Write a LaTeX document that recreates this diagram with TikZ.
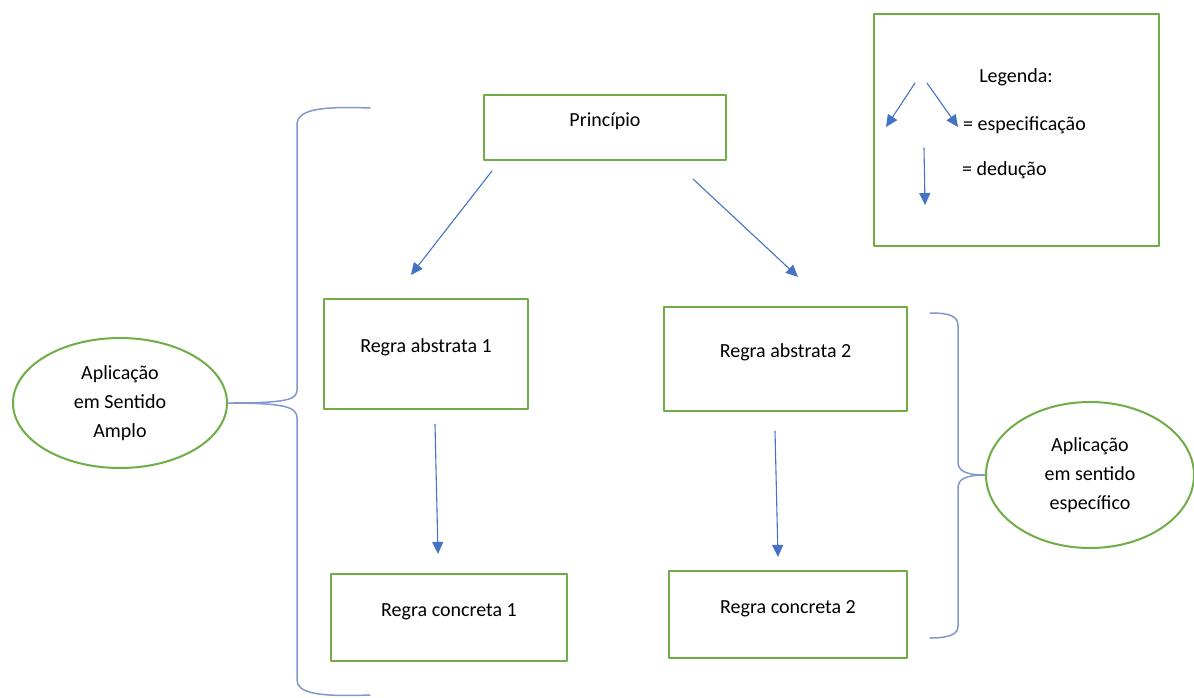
\documentclass[tikz,border=0pt]{standalone}
\usepackage{fontspec}
\setmainfont{Carlito}
\usetikzlibrary{arrows.meta,shapes.geometric,calc}

\begin{document}
\begin{tikzpicture}[x=1pt, y=-1pt, line join=round, line cap=round,
  font=\fontsize{20}{24}\selectfont,
  box/.style={draw=boxgreen, line width=2.2pt, text height=14pt, text depth=17pt},
  oval/.style={ellipse, draw=boxgreen, line width=2pt, align=center,
    font=\fontsize{20}{29}\selectfont},
  spec/.style={draw=arrowblue, line width=1.1pt, -{Triangle[length=12pt,width=11pt]}},
  brace/.style={draw=bracegray, line width=1.5pt}]

% ---------- helpers ----------
\definecolor{boxgreen}{RGB}{112,173,71}
\definecolor{arrowblue}{RGB}{68,114,196}
\definecolor{bracegray}{RGB}{128,152,204}

\useasboundingbox (0,0) rectangle (1194,697);

% ---------- boxes ----------
\node[box, minimum width=242, minimum height=65] (princ) at (605,127.5) {Princípio};
\node[box, minimum width=204, minimum height=110] (abs1) at (426,354) {Regra abstrata 1};
\node[box, minimum width=243, minimum height=104] (abs2) at (785.5,359) {Regra abstrata 2};
\node[box, minimum width=236, minimum height=87] (conc1) at (449,617.5) {Regra concreta 1};
\node[box, minimum width=238, minimum height=87] (conc2) at (788,614.5) {Regra concreta 2};

% ---------- ovals ----------
\node[oval, minimum width=214, minimum height=130] (amplo) at (120,403)
  {Aplicação\\em Sentido\\Amplo};
\node[oval, minimum width=208, minimum height=146] (especif) at (1090,475)
  {Aplicação\\em sentido\\específico};

% ---------- arrows ----------
\draw[spec] ($(princ.south west)+(9,10)$) -- ($(abs1.north)+(-15,-23)$);
\draw[spec] ($(princ.south east)+(-34,18)$) -- ($(abs2.north)+(12.5,-29)$);
\draw[spec] ($(abs1.south)+(9,14)$) -- ($(conc1.north)+(-11,-19)$);
\draw[spec] ($(abs2.south)+(-10.5,19)$) -- ($(conc2.north)+(-10,-13)$);

% ---------- braces ----------
\draw[brace] (370,108) .. controls (318,106) and (297,110) .. (297,125)
  -- (297,390) .. controls (297,400) and (285,403) .. (amplo.east)
  .. controls (285,403) and (297,407) .. (297,418)
  -- (297,680) .. controls (297,693) and (318,697) .. (370,695);
\draw[brace] (930,313) .. controls (950,313) and (958,316) .. (958,326)
  -- (958,462) .. controls (958,471) and (966,475) .. (especif.west)
  .. controls (966,475) and (958,479) .. (958,488)
  -- (958,626) .. controls (958,634) and (950,638) .. (930,638);

% ---------- legend ----------
\node[draw=boxgreen, line width=2.2pt, minimum width=285, minimum height=232] (legend) at (1016.5,130) {};
\node (legtitle) at (1016,77) {Legenda:};
\node[anchor=west, inner sep=0pt] (legspec) at (963,125) {= especificação};
\node[anchor=west, inner sep=0pt] (legded) at (962,170) {= dedução};
\coordinate (spectop1) at (915,83);
\coordinate (specend1) at (886,127);
\coordinate (spectop2) at (927,83);
\coordinate (specend2) at (958,127);
\coordinate (dedtop) at (924,148);
\coordinate (dedend) at (925,205);
\draw[spec] (spectop1) -- (specend1);
\draw[spec] (spectop2) -- (specend2);
\draw[spec] (dedtop) -- (dedend);

\end{tikzpicture}
\end{document}
